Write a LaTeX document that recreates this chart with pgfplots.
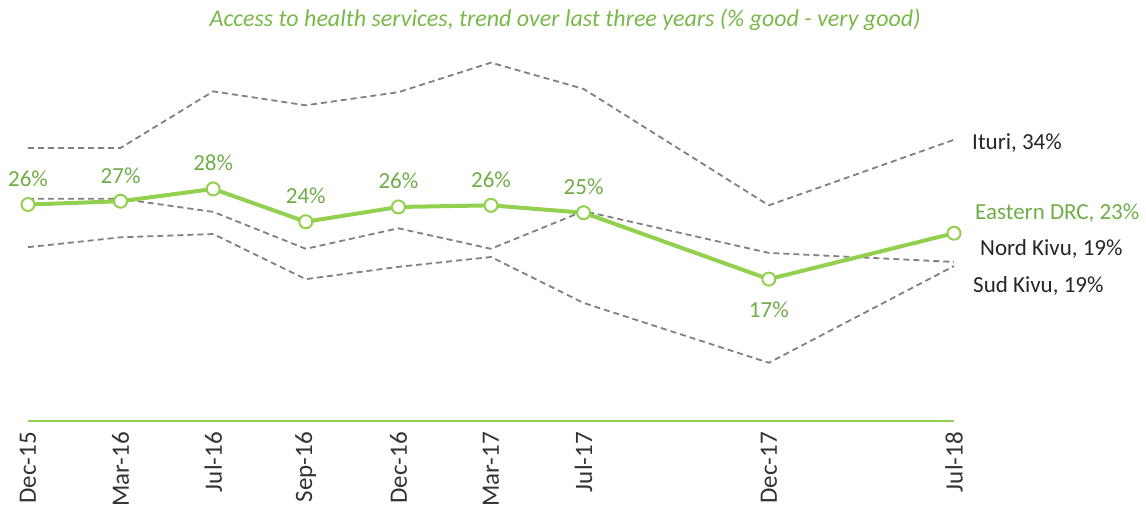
\documentclass[border=0pt]{standalone}
\usepackage{fontspec}
\setmainfont{Carlito}
\usepackage{pgfplots}
\pgfplotsset{compat=1.18}
\definecolor{lgreen}{HTML}{92D050}
\definecolor{dgreen}{HTML}{70AD47}
\definecolor{dgray}{HTML}{808080}
\begin{document}
\begin{tikzpicture}
\begin{axis}[
  scale only axis, width=926pt, height=369pt,
  xmin=0, xmax=10, ymin=0, ymax=45,
  clip=false,
  axis y line=none, axis x line*=bottom,
  x axis line style={draw=lgreen, line width=2pt, -},
  xtick={0,1,2,3,4,5,6,8,10},
  xticklabels={Dec-15,Mar-16,Jul-16,Sep-16,Dec-16,Mar-17,Jul-17,Dec-17,Jul-18},
  xtick style={draw=none},
  xticklabel style={rotate=90, anchor=east, inner sep=0pt, xshift=-11pt, font=\fontsize{25}{28}\selectfont, text=black!80},
  ytick=\empty,
]
\addplot[dgray, line width=1.8pt, dash pattern=on 6pt off 4pt] coordinates {
 (0,33.3) (1,33.3) (2,40.2) (3,38.5) (4,40.1) (5,43.7) (6,40.5) (8,26.3) (10,34.3)};
\addplot[dgray, line width=1.8pt, dash pattern=on 6pt off 4pt] coordinates {
 (0,27.1) (1,27.1) (2,25.5) (3,21.0) (4,23.5) (5,21.0) (6,25.6) (8,20.5) (10,19.4)};
\addplot[dgray, line width=1.8pt, dash pattern=on 6pt off 4pt] coordinates {
 (0,21.2) (1,22.4) (2,22.8) (3,17.3) (4,18.8) (5,20.0) (6,14.4) (8,7.1) (10,18.9)};
\addplot[lgreen, line width=4pt, mark=*, mark size=6.5pt,
  mark options={fill=white, draw=lgreen, line width=2pt},
  point meta=explicit symbolic, nodes near coords,
  nodes near coords style={anchor=south, inner sep=0pt, yshift=17pt, text=dgreen, font=\fontsize{23}{26}\selectfont}]
 coordinates {
 (0,26.4) [26\%] (1,26.8) [27\%] (2,28.3) [28\%] (3,24.3) [24\%] (4,26.1) [26\%]
 (5,26.3) [26\%] (6,25.4) [25\%] (8,17.3) [] (10,22.9) []};
\addplot[draw=none, point meta=explicit symbolic, nodes near coords,
  nodes near coords style={anchor=north, inner sep=0pt, yshift=-22pt, text=dgreen, font=\fontsize{23}{26}\selectfont}]
 coordinates {(8,17.3) [17\%]};
\node[anchor=west, inner sep=0pt, font=\fontsize{23}{26}\selectfont, text=black!85] at (axis cs:10,33.9) [xshift=18pt] {Ituri, 34\%};
\node[anchor=west, inner sep=0pt, font=\fontsize{23}{26}\selectfont, text=dgreen] at (axis cs:10,25.4) [xshift=21pt] {Eastern DRC, 23\%};
\node[anchor=west, inner sep=0pt, font=\fontsize{23}{26}\selectfont, text=black!85] at (axis cs:10,21.0) [xshift=26pt] {Nord Kivu, 19\%};
\node[anchor=west, inner sep=0pt, font=\fontsize{23}{26}\selectfont, text=black!85] at (axis cs:10,16.5) [xshift=19pt] {Sud Kivu, 19\%};
\node[inner sep=0pt, font=\fontsize{24}{28}\selectfont\itshape, text=dgreen!70!lgreen] at (axis cs:5.8,48.9) {Access to health services, trend over last three years (\% good - very good)};
\end{axis}
\useasboundingbox (-28pt,-86pt) rectangle (1118pt,421pt);
\end{tikzpicture}
\end{document}
